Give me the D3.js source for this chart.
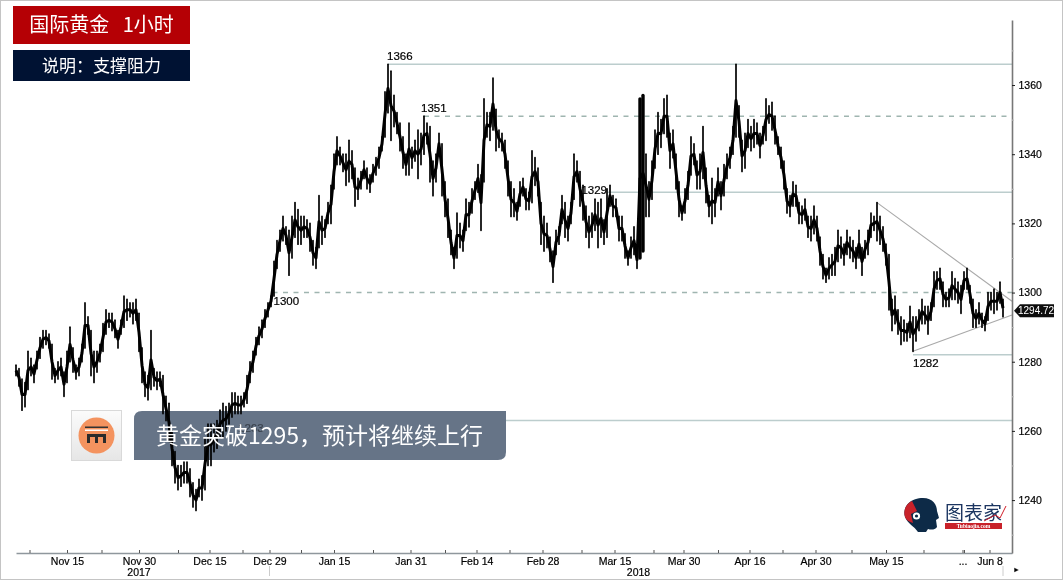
<!DOCTYPE html>
<html>
<head>
<meta charset="utf-8">
<script src="https://cdn.jsdelivr.net/npm/d3@7"></script>
<style>
    html, body { margin: 0; padding: 0; background: #fff; }
    svg { display: block; }
    .chart text { font-family: "Liberation Sans", sans-serif; fill: #000; stroke: #000; stroke-width: 0.2px; }
    .note text { font-family: "Noto Sans CJK SC", sans-serif; fill: #fff; }
</style>
</head>
<body>
<svg id="chart" width="1064" height="581"></svg>
<script>
// low / high of each bar
const barRanges = [
    [1276,1279],[1273,1278],[1266,1275],[1267,1274],[1272,1283],[1276,1281],[1274,1279],[1278,1283],[1281,1287],[1284,1289],
    [1285,1289],[1284,1288],[1275,1285],[1274,1278],[1275,1280],[1276,1281],[1270,1277],[1274,1283],[1280,1290],[1277,1284],
    [1275,1279],[1276,1281],[1280,1285],[1284,1297],[1288,1293],[1276,1289],[1274,1283],[1277,1283],[1280,1285],[1283,1291],
    [1288,1295],[1290,1294],[1289,1294],[1287,1292],[1284,1289],[1288,1292],[1290,1299],[1292,1298],[1293,1297],[1291,1297],
    [1292,1298],[1283,1294],[1274,1284],[1270,1277],[1269,1276],[1272,1289],[1273,1278],[1272,1277],[1273,1277],[1265,1276],
    [1263,1270],[1257,1268],[1250,1260],[1245,1254],[1243,1250],[1244,1250],[1245,1251],[1245,1251],[1241,1249],[1238,1245],
    [1237,1243],[1241,1246],[1240,1247],[1243,1258],[1250,1262],[1250,1262],[1254,1262],[1255,1263],[1258,1266],[1258,1268],
    [1260,1267],[1262,1268],[1264,1271],[1265,1271],[1265,1270],[1265,1270],[1267,1271],[1268,1276],[1274,1280],[1277,1283],
    [1282,1287],[1285,1290],[1287,1292],[1290,1295],[1293,1297],[1296,1299],[1299,1309],[1307,1315],[1312,1318],[1315,1322],
    [1314,1319],[1305,1318],[1310,1322],[1316,1326],[1314,1324],[1314,1322],[1316,1322],[1316,1321],[1312,1320],[1308,1315],
    [1307,1313],[1313,1328],[1314,1322],[1316,1321],[1320,1326],[1320,1331],[1330,1340],[1337,1345],[1337,1342],[1335,1340],
    [1331,1340],[1332,1344],[1333,1341],[1325,1336],[1327,1333],[1330,1335],[1333,1338],[1330,1336],[1329,1334],[1332,1337],
    [1334,1339],[1336,1342],[1341,1345],[1345,1358],[1352,1366],[1344,1364],[1348,1357],[1346,1352],[1341,1349],[1336,1345],
    [1334,1340],[1334,1349],[1336,1342],[1338,1344],[1333,1347],[1337,1346],[1340,1351],[1343,1349],[1332,1348],[1328,1338],
    [1332,1340],[1340,1346],[1328,1343],[1322,1332],[1316,1327],[1311,1318],[1307,1313],[1310,1323],[1313,1320],[1312,1318],
    [1318,1327],[1319,1326],[1323,1330],[1327,1332],[1329,1337],[1318,1334],[1332,1356],[1345,1352],[1344,1352],[1347,1362],
    [1341,1353],[1342,1347],[1341,1346],[1336,1344],[1328,1338],[1322,1332],[1322,1330],[1321,1326],[1325,1332],[1328,1333],
    [1324,1330],[1324,1329],[1326,1341],[1331,1339],[1328,1336],[1314,1326],[1312,1322],[1313,1320],[1309,1316],[1303,1312],
    [1311,1318],[1314,1319],[1320,1328],[1316,1326],[1315,1322],[1320,1326],[1327,1340],[1332,1338],[1325,1335],[1321,1331],
    [1316,1325],[1313,1322],[1316,1323],[1318,1327],[1313,1326],[1316,1327],[1314,1321],[1316,1330],[1325,1331],[1322,1328],
    [1322,1327],[1315,1322],[1315,1322],[1310,1317],[1308,1312],[1310,1316],[1311,1319],[1307,1312],[1310,1356],[1312,1357],
    [1322,1340],[1322,1332],[1327,1338],[1336,1347],[1340,1352],[1342,1350],[1346,1356],[1345,1357],[1336,1346],[1339,1347],
    [1330,1340],[1322,1332],[1321,1325],[1323,1330],[1327,1335],[1334,1345],[1337,1343],[1330,1338],[1330,1340],[1333,1348],
    [1326,1336],[1322,1328],[1320,1333],[1322,1330],[1328,1336],[1324,1332],[1328,1337],[1333,1340],[1336,1342],[1340,1348],
    [1345,1366],[1345,1354],[1335,1344],[1336,1346],[1342,1350],[1341,1348],[1342,1350],[1343,1349],[1339,1346],[1343,1348],
    [1344,1356],[1349,1354],[1347,1355],[1343,1351],[1340,1345],[1336,1342],[1330,1338],[1323,1330],[1322,1328],[1325,1332],
    [1325,1331],[1320,1326],[1320,1325],[1321,1327],[1316,1322],[1315,1322],[1317,1325],[1315,1322],[1308,1316],[1304,1311],
    [1303,1307],[1304,1310],[1305,1311],[1305,1313],[1309,1318],[1310,1316],[1308,1314],[1311,1318],[1310,1316],[1309,1315],
    [1307,1313],[1310,1318],[1305,1313],[1310,1315],[1311,1318],[1316,1323],[1318,1322],[1315,1326],[1314,1322],[1312,1319],
    [1308,1314],[1295,1311],[1289,1298],[1291,1299],[1288,1295],[1285,1293],[1286,1292],[1286,1291],[1287,1296],[1283,1293],
    [1286,1293],[1289,1295],[1291,1298],[1291,1296],[1288,1296],[1292,1297],[1296,1306],[1301,1306],[1301,1307],[1296,1303],
    [1296,1300],[1296,1301],[1298,1306],[1298,1304],[1297,1303],[1294,1302],[1301,1306],[1301,1307],[1297,1302],[1290,1298],
    [1290,1295],[1291,1297],[1290,1294],[1289,1293],[1292,1300],[1295,1300],[1294,1301],[1295,1300],[1297,1303],[1293,1298]
];
const lastPrice = 1294.72;

// x axis: labels are pinned to bar numbers, the chart skips non trading hours
const dateLabels = ["Nov 15", "Nov 30", "Dec 15", "Dec 29", "Jan 15", "Jan 31", "Feb 14", "Feb 28", "Mar 15", "Mar 30", "Apr 16", "Apr 30", "May 15", "...", "Jun 8"];
const dateBars = [17, 41, 64.5, 84.5, 106, 131.5, 153.5, 175.5, 199.5, 222.5, 244.5, 266.5, 290, 315.5, 324.5];
const minorBars = [4.5, 28.5, 54, 75.5, 95, 119, 143, 164.5, 188.5, 212.5, 234, 255.5, 278.5, 302.5, 316];
const yearLabels = ["2017", "2018"];
const yearBars = [41, 207.5];
const yearSplitBars = [84.5, 329];

// y axis
const priceTicks = [1240, 1260, 1280, 1300, 1320, 1340, 1360];
const priceMinorTicks = [1230, 1250, 1270, 1290, 1310, 1330, 1350, 1370];

// support / resistance levels
const levelPrices = [1366, 1351, 1329, 1300, 1282, 1263];
const levelStartBars = [124, 136, 197, 85.5, 299, 82];
const dashedLevels = [1351, 1300];

// triangle: [start bar, start price, end bar, end price]
const trendLines = [[287, 1326, 332, 1297.5], [299, 1283, 332, 1293.5]];

const xScale = d3.scaleLinear().domain([0, 332]).range([16, 1012]);
const yScale = d3.scaleLinear().domain([1224.7, 1378.8]).range([553, 20]);

const svg = d3.select("#chart");

svg.append("rect")
    .attr("x", 0.5).attr("y", 0.5)
    .attr("width", 1062).attr("height", 579)
    .attr("fill", "#fff")
    .attr("stroke", "#c4c4c4");

let defs = svg.append("defs");
defs.append("filter").attr("id", "soft")
    .append("feGaussianBlur").attr("stdDeviation", 0.45);
let boxGradient = defs.append("linearGradient").attr("id", "boxFill")
    .attr("x1", 0).attr("y1", 0).attr("x2", 0).attr("y2", 1);
boxGradient.append("stop").attr("offset", 0).attr("stop-color", "#fbfbfb");
boxGradient.append("stop").attr("offset", 1).attr("stop-color", "#e6e6e6");

// levels go under the banner
svg.append("g")
    .attr("filter", "url(#soft)")
    .selectAll("line")
    .data(levelPrices)
    .enter().append("line")
    .attr("x1", (d, i) => xScale(levelStartBars[i]))
    .attr("x2", xScale(332))
    .attr("y1", d => yScale(d))
    .attr("y2", d => yScale(d))
    .attr("stroke", d => dashedLevels.includes(d) ? "#9fb5b0" : "#bccdcd")
    .attr("stroke-width", 1.5)
    .attr("stroke-dasharray", d => dashedLevels.includes(d) ? "5,5.5" : null);

// banner sits under the price bars, they show through it
svg.append("path")
    .attr("d", "M142,411H506V452Q506,460 498,460H134V419Q134,411 142,411Z")
    .attr("fill", "#667487");

const plot = svg.append("g").attr("class", "chart").attr("filter", "url(#soft)");

plot.append("g")
    .selectAll("line")
    .data(trendLines)
    .enter().append("line")
    .attr("x1", d => xScale(d[0]))
    .attr("y1", d => yScale(d[1]))
    .attr("x2", d => xScale(d[2]))
    .attr("y2", d => yScale(d[3]))
    .attr("stroke", "#a9a9a9")
    .attr("stroke-width", 1.1);

// price bars: thin high-low wicks, the dense block around Mar 15 drawn wider
plot.append("g")
    .selectAll("line")
    .data(barRanges)
    .enter().append("line")
    .attr("x1", (d, i) => xScale(i))
    .attr("x2", (d, i) => xScale(i))
    .attr("y1", d => yScale(d[0]))
    .attr("y2", d => yScale(d[1]))
    .attr("stroke", "#000")
    .attr("stroke-width", d => d[1] - d[0] > 30 ? 3.4 : 1.7)
    .attr("stroke-linecap", "round");

// body of the price line through the bar midpoints
const midLine = d3.line()
    .x((d, i) => xScale(i))
    .y(d => yScale((d[0] + d[1]) / 2));
plot.append("path")
    .attr("d", midLine(barRanges))
    .attr("fill", "none")
    .attr("stroke", "#000")
    .attr("stroke-width", 3)
    .attr("stroke-linejoin", "round");

// level captions, each one hangs off its line differently
const levelCaption = {
    1366: { dx: -1, dy: -4, anchor: "start" },
    1351: { dx: -3, dy: -4, anchor: "start" },
    1329: { dx: 0, dy: 2, anchor: "end" },
    1300: { dx: 1, dy: 12, anchor: "start" },
    1282: { dx: 0, dy: 12, anchor: "start" },
    1263: { dx: -24, dy: 11, anchor: "start" }
};
plot.append("g")
    .selectAll("text")
    .data(levelPrices)
    .enter().append("text")
    .attr("x", (d, i) => xScale(levelStartBars[i]) + levelCaption[d].dx)
    .attr("y", d => yScale(d) + levelCaption[d].dy)
    .attr("text-anchor", d => levelCaption[d].anchor)
    .style("font-size", "11.5px")
    .style("opacity", d => d == 1263 ? 0.45 : 1)
    .text(d => d);

// axes
const xAxis = plot.append("g")
    .attr("transform", "translate(0,553)")
    .call(d3.axisBottom(xScale)
        .tickValues(dateBars)
        .tickSize(-3)
        .tickSizeOuter(0)
        .tickPadding(5)
        .tickFormat((d, i) => dateLabels[i]));
xAxis.select(".domain").attr("stroke", "#8f979d").attr("stroke-width", 1.6);
xAxis.selectAll(".tick line").attr("stroke", "#555");
xAxis.selectAll("text").style("font-size", "10.5px");

plot.append("g")
    .attr("transform", "translate(0,553)")
    .call(d3.axisBottom(xScale).tickValues(minorBars).tickSize(-3).tickFormat(""))
    .call(g => g.select(".domain").remove())
    .selectAll(".tick line").attr("stroke", "#555");

plot.append("g")
    .selectAll("line")
    .data(yearSplitBars)
    .enter().append("line")
    .attr("x1", d => xScale(d))
    .attr("x2", d => xScale(d))
    .attr("y1", yScale.range()[0] + 13)
    .attr("y2", yScale.range()[0] + 23)
    .attr("stroke", "#ccc");

plot.append("g")
    .selectAll("text")
    .data(yearLabels)
    .enter().append("text")
    .attr("x", (d, i) => xScale(yearBars[i]))
    .attr("y", 576)
    .attr("text-anchor", "middle")
    .style("font-size", "10.5px")
    .text(d => d);

const yAxis = plot.append("g")
    .attr("transform", "translate(1012,0)")
    .call(d3.axisRight(yScale)
        .tickValues(priceTicks)
        .tickSize(3)
        .tickSizeOuter(0)
        .tickPadding(3.5)
        .tickFormat(d3.format("d")));
yAxis.select(".domain").attr("stroke", "#777").attr("stroke-width", 1.6);
yAxis.selectAll(".tick line").attr("stroke", "#222");
yAxis.selectAll("text").style("font-size", "10.5px");

plot.append("g")
    .attr("transform", "translate(1012,0)")
    .call(d3.axisRight(yScale).tickValues(priceMinorTicks).tickSize(2).tickSizeOuter(0).tickFormat(""))
    .call(g => g.select(".domain").remove())
    .selectAll(".tick line").attr("stroke", "#bbb");

// last price tag
const tagY = yScale(lastPrice);
plot.append("path")
    .attr("d", `M1014,${tagY}l6,-6.5h34v13h-34z`)
    .attr("fill", "#111");
plot.append("text")
    .attr("x", 1018)
    .attr("y", tagY + 3.5)
    .style("font-size", "10px")
    .style("fill", "#fff")
    .style("stroke", "none")
    .text(d3.format(".2f")(lastPrice));

plot.append("text")
    .attr("x", 1013)
    .attr("y", 572)
    .style("font-size", "7px")
    .text("►");

// title boxes
const note = svg.append("g").attr("class", "note");
note.append("rect").attr("x", 13).attr("y", 6).attr("width", 177).attr("height", 38).attr("fill", "#b50005");
note.append("text")
    .attr("x", 101.5).attr("y", 32)
    .attr("text-anchor", "middle")
    .style("font-size", "20px")
    .text("国际黄金\u00a0\u00a0\u00a01小时");
note.append("rect").attr("x", 13).attr("y", 50).attr("width", 177).attr("height", 31).attr("fill", "#001233");
note.append("text")
    .attr("x", 101.5).attr("y", 71.5)
    .attr("text-anchor", "middle")
    .style("font-size", "17px")
    .text("说明：支撑阻力");

// icon left of the banner
note.append("rect")
    .attr("x", 71.5).attr("y", 410.5).attr("width", 50).attr("height", 50)
    .attr("fill", "url(#boxFill)").attr("stroke", "#d9d9d9");
note.append("circle").attr("cx", 96.5).attr("cy", 435.5).attr("r", 18).attr("fill", "#f4935f");
note.append("rect").attr("x", 85).attr("y", 426.5).attr("width", 23).attr("height", 1.5).attr("fill", "#333");
note.append("rect").attr("x", 85).attr("y", 429.5).attr("width", 23).attr("height", 1.5).attr("fill", "#fff");
note.append("path")
    .attr("d", "M87,434H106V443H103V437H98V443H95V437H90V443H87Z")
    .attr("fill", "#2b2b2b");

note.append("text")
    .attr("x", 156).attr("y", 444)
    .style("font-size", "23px")
    .text("黄金突破1295，预计将继续上行");

// watermark
const mark = svg.append("g").attr("filter", "url(#soft)");
mark.append("path")
    .attr("d", "M905,517C902,505 912,498 923,498C933,498 937,505 937,511L939,518L936,520L937,527C935,530 931,530 928,529L926,532H918C914,526 908,524 905,517Z")
    .attr("fill", "#0e2a47");
mark.append("path")
    .attr("d", "M905,517C903,510 906,504 912,501L917,511L911,514L913,523C909,522 906,520 905,517Z")
    .attr("fill", "#c8202a");
mark.append("circle").attr("cx", 916.5).attr("cy", 516).attr("r", 3.6).attr("fill", "#fff");
mark.append("circle").attr("cx", 916.5).attr("cy", 516).attr("r", 1.6).attr("fill", "#0e2a47");
mark.append("text")
    .attr("x", 945).attr("y", 520)
    .style("font-family", '"Noto Sans CJK SC", sans-serif')
    .style("font-size", "19px")
    .attr("fill", "#1a3560")
    .text("图表家");
mark.append("path").attr("d", "M984,521L995,515L1000,518L1006,506").attr("fill", "none").attr("stroke", "#d01c26").attr("stroke-width", 1);
mark.append("rect").attr("x", 945).attr("y", 523).attr("width", 57).attr("height", 6).attr("fill", "#c8202a");
mark.append("text")
    .attr("x", 973.5).attr("y", 528)
    .attr("text-anchor", "middle")
    .style("font-family", '"Liberation Serif", serif')
    .style("font-size", "5.5px")
    .style("font-weight", "bold")
    .attr("fill", "#fff")
    .text("Tubiaojia.com");
</script>
</body>
</html>
